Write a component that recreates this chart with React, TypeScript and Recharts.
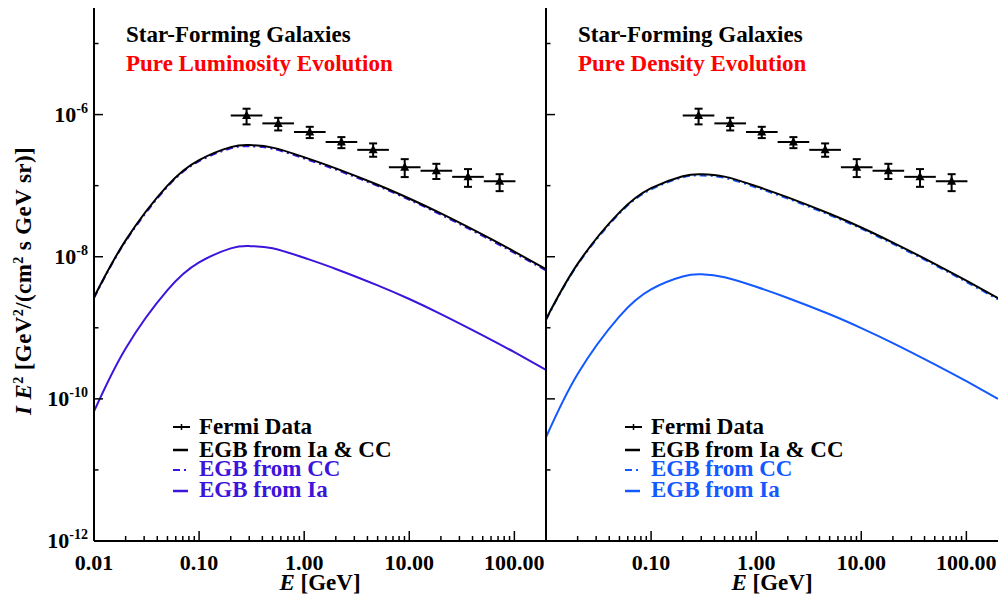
import React from 'react';
import { ComposedChart, Line, Scatter, ErrorBar, XAxis, YAxis } from 'recharts';

const FONT = '"Liberation Serif", "Times New Roman", serif';
const PURPLE = '#3c14dc';
const BLUE = '#1458ff';

// model energies (GeV)
const energies = [0.01, 0.02, 0.05, 0.1, 0.2, 0.3, 0.5, 1, 2, 5, 10, 20, 50, 100, 200];

// pure luminosity evolution
const pleTotal = [2.69e-9, 1.7e-8, 1.0e-7, 2.29e-7, 3.48e-7, 3.72e-7, 3.43e-7, 2.51e-7, 1.75e-7, 1.03e-7, 6.59e-8, 4.06e-8, 2.04e-8, 1.18e-8, 6.67e-9];
const pleCC = [2.62e-9, 1.65e-8, 9.66e-8, 2.21e-7, 3.35e-7, 3.58e-7, 3.3e-7, 2.41e-7, 1.68e-7, 9.91e-8, 6.34e-8, 3.9e-8, 1.96e-8, 1.13e-8, 6.41e-9];
const pleIa = [6.67e-11, 5.13e-10, 3.39e-9, 8.32e-9, 1.31e-8, 1.41e-8, 1.32e-8, 9.66e-9, 6.73e-9, 3.95e-9, 2.54e-9, 1.56e-9, 7.83e-10, 4.53e-10, 2.56e-10];

// pure density evolution
const pdeTotal = [1.32e-9, 7.94e-9, 4.21e-8, 9.2e-8, 1.36e-7, 1.45e-7, 1.34e-7, 9.82e-8, 6.84e-8, 4.02e-8, 2.58e-8, 1.58e-8, 7.96e-9, 4.6e-9, 2.61e-9];
const pdeCC = [1.29e-9, 7.72e-9, 4.07e-8, 8.85e-8, 1.31e-7, 1.39e-7, 1.29e-7, 9.44e-8, 6.58e-8, 3.87e-8, 2.48e-8, 1.52e-8, 7.65e-9, 4.42e-9, 2.51e-9];
const pdeIa = [2.88e-11, 2.24e-10, 1.45e-9, 3.48e-9, 5.27e-9, 5.65e-9, 5.15e-9, 3.78e-9, 2.63e-9, 1.55e-9, 9.91e-10, 6.1e-10, 3.06e-10, 1.77e-10, 1.0e-10];

// Fermi EGB data
const fermiE = [0.283, 0.566, 1.13, 2.26, 4.53, 9.05, 18.1, 36.2, 72.4];
const fermiEmin = [0.2, 0.4, 0.8, 1.6, 3.2, 6.4, 12.8, 25.6, 51.2];
const fermiEmax = [0.4, 0.8, 1.6, 3.2, 6.4, 12.8, 25.6, 51.2, 102.4];
const fermiFlux = [9.74e-7, 7.52e-7, 5.67e-7, 4.1e-7, 3.19e-7, 1.82e-7, 1.62e-7, 1.33e-7, 1.15e-7];
const fermiHi = [1.21e-6, 9.01e-7, 6.73e-7, 4.82e-7, 3.93e-7, 2.36e-7, 2.03e-7, 1.71e-7, 1.45e-7];
const fermiLo = [7.28e-7, 5.98e-7, 4.67e-7, 3.37e-7, 2.55e-7, 1.32e-7, 1.24e-7, 9.62e-8, 8.37e-8];

// axes
const xTicks = [
  0.01, 0.02, 0.03, 0.04, 0.05, 0.06, 0.07, 0.08, 0.09,
  0.1, 0.2, 0.3, 0.4, 0.5, 0.6, 0.7, 0.8, 0.9,
  1, 2, 3, 4, 5, 6, 7, 8, 9,
  10, 20, 30, 40, 50, 60, 70, 80, 90, 100,
];
const xMajor = [0.01, 0.1, 1, 10, 100];
const xLabels = ['0.01', '0.10', '1.00', '10.00', '100.00'];
const yTicks = [1e-12, 1e-11, 1e-10, 1e-9, 1e-8, 1e-7, 1e-6, 1e-5];
const yLabelExp = [-12, -10, -8, -6];
const xDomain = [0.01, 200];
const yDomain = [1e-12, 3.16e-5];

const series = (ys: number[]) => energies.map((e, i) => ({ e, v: ys[i] }));
const fermiRows = fermiE.map((e, i) => ({
  e,
  flux: fermiFlux[i],
  xErr: [e - fermiEmin[i], fermiEmax[i] - e],
  yErr: [fermiFlux[i] - fermiLo[i], fermiHi[i] - fermiFlux[i]],
}));

const majorIdx = (v: number) => xMajor.findIndex((m) => Math.abs(m - v) / m < 1e-6);
const yExp = (v: number) => Math.round(Math.log10(v));

const BottomTick = (props: any) => {
  const { x, y, payload, hideFirst } = props;
  const idx = majorIdx(payload.value);
  const len = idx >= 0 ? 10 : 5;
  return (
    <g>
      <line x1={x} y1={y} x2={x} y2={y - len} stroke="#000" strokeWidth={1.5} />
      {idx >= 0 && !(hideFirst && idx === 0) && (
        <text x={x} y={y + 29} textAnchor="middle" fontFamily={FONT} fontWeight="bold" fontSize={22} fill="#000">
          {xLabels[idx]}
        </text>
      )}
    </g>
  );
};

const TopTick = (props: any) => {
  const { x, y, payload } = props;
  const len = majorIdx(payload.value) >= 0 ? 10 : 5;
  return <line x1={x} y1={y} x2={x} y2={y + len} stroke="#000" strokeWidth={1.5} />;
};

const LeftTick = (props: any) => {
  const { x, y, payload, showLabel } = props;
  const exp = yExp(payload.value);
  const major = exp % 2 === 0;
  return (
    <g>
      <line x1={x} y1={y} x2={x + (major ? 9 : 4.5)} y2={y} stroke="#000" strokeWidth={1.5} />
      {showLabel && yLabelExp.includes(exp) && (
        <text x={x - 6} y={y + 7} textAnchor="end" fontFamily={FONT} fontWeight="bold" fontSize={22} fill="#000">
          10<tspan dy={-9} fontSize={14}>{String(exp)}</tspan>
        </text>
      )}
    </g>
  );
};

const RightTick = (props: any) => {
  const { x, y, payload } = props;
  const major = yExp(payload.value) % 2 === 0;
  return <line x1={x} y1={y} x2={x - (major ? 9 : 4.5)} y2={y} stroke="#000" strokeWidth={1.5} />;
};

const Triangle = (props: any) => {
  const { cx, cy } = props;
  return <polygon points={`${cx},${cy - 5} ${cx - 4.5},${cy + 3.5} ${cx + 4.5},${cy + 3.5}`} fill="#000" />;
};

const axisLine = { stroke: '#000', strokeWidth: 2 };

interface PanelProps {
  left: number;
  total: number[];
  cc: number[];
  ia: number[];
  color: string;
  first: boolean;
}

const Panel: React.FC<PanelProps> = ({ left, total, cc, ia, color, first }) => (
  <div style={{ position: 'absolute', left, top: 0 }}>
    <ComposedChart width={548} height={599} margin={{ top: 8, right: 2, bottom: 0, left: 0 }}>
      <XAxis
        dataKey="e" type="number" scale="log" domain={xDomain} allowDataOverflow
        ticks={xTicks} interval={0} height={58} tickSize={0} tickMargin={0} tickLine={false}
        axisLine={axisLine} tick={<BottomTick hideFirst={!first} />}
      />
      <XAxis
        xAxisId="top" orientation="top" dataKey="e" type="number" scale="log" domain={xDomain}
        allowDataOverflow ticks={xTicks} interval={0} height={0} tickSize={0} tickMargin={0}
        tickLine={false} axisLine={axisLine} tick={<TopTick />}
      />
      <YAxis
        type="number" scale="log" domain={yDomain} allowDataOverflow ticks={yTicks} interval={0}
        width={94} tickSize={0} tickMargin={0} tickLine={false} axisLine={axisLine}
        tick={<LeftTick showLabel={first} />}
      />
      <YAxis
        yAxisId="right" orientation="right" type="number" scale="log" domain={yDomain} allowDataOverflow
        ticks={yTicks} interval={0} width={0} tickSize={0} tickMargin={0} tickLine={false}
        axisLine={axisLine} tick={<RightTick />}
      />
      <Line data={series(cc)} dataKey="v" type="natural" stroke={color} strokeWidth={2}
        strokeDasharray="7 4 2 4" dot={false} isAnimationActive={false} />
      <Line data={series(total)} dataKey="v" type="natural" stroke="#000" strokeWidth={2}
        dot={false} isAnimationActive={false} />
      <Line data={series(ia)} dataKey="v" type="natural" stroke={color} strokeWidth={2}
        dot={false} isAnimationActive={false} />
      <Scatter data={fermiRows} dataKey="flux" shape={<Triangle />} isAnimationActive={false}>
        <ErrorBar dataKey="yErr" direction="y" width={4} stroke="#000" strokeWidth={2} />
        <ErrorBar dataKey="xErr" direction="x" width={0} stroke="#000" strokeWidth={2} />
      </Scatter>
    </ComposedChart>
  </div>
);

const Annotations: React.FC<{ ox: number; subtitle: string; color: string }> = ({ ox, subtitle, color }) => {
  const sx = 173 + ox;
  const tx = 199 + ox;
  return (
    <g fontFamily={FONT} fontWeight="bold" fontSize={23}>
      <text x={126 + ox} y={42} fill="#000">Star-Forming Galaxies</text>
      <text x={126 + ox} y={71} fill="#ff0000">{subtitle}</text>

      <line x1={sx} y1={427} x2={sx + 17} y2={427} stroke="#000" strokeWidth={2} />
      <line x1={sx + 8.5} y1={424} x2={sx + 8.5} y2={430} stroke="#000" strokeWidth={1.5} />
      <text x={tx} y={434} fill="#000">Fermi Data</text>

      <line x1={sx} y1={450} x2={sx + 15} y2={450} stroke="#000" strokeWidth={2.5} />
      <text x={tx} y={457} fill="#000">EGB from Ia &amp; CC</text>

      <line x1={sx} y1={470} x2={sx + 15} y2={470} stroke={color} strokeWidth={2} strokeDasharray="7 4 2 4" />
      <text x={tx} y={476} fill={color}>EGB from CC</text>

      <line x1={sx} y1={491} x2={sx + 15} y2={491} stroke={color} strokeWidth={2.5} />
      <text x={tx} y={497} fill={color}>EGB from Ia</text>

      <text x={320 + ox} y={590} textAnchor="middle" fill="#000">
        <tspan fontStyle="italic">E</tspan> [GeV]
      </text>
    </g>
  );
};

export default function App() {
  return (
    <div style={{ position: 'absolute', left: 0, top: 0, width: 1000, height: 599, background: '#fff' }}>
      <Panel left={0} total={pleTotal} cc={pleCC} ia={pleIa} color={PURPLE} first />
      <Panel left={452} total={pdeTotal} cc={pdeCC} ia={pdeIa} color={BLUE} first={false} />
      <svg width={1000} height={599} style={{ position: 'absolute', left: 0, top: 0, pointerEvents: 'none' }}>
        <Annotations ox={0} subtitle="Pure Luminosity Evolution" color={PURPLE} />
        <Annotations ox={452} subtitle="Pure Density Evolution" color={BLUE} />
        <text
          x={31} y={281} transform="rotate(-90 31 281)" textAnchor="middle"
          fontFamily={FONT} fontWeight="bold" fontSize={23} letterSpacing={0.4} fill="#000"
        >
          <tspan fontStyle="italic">I E</tspan>
          <tspan dy={-8} fontSize={14}>2</tspan>
          <tspan dy={8}>{' [GeV'}</tspan>
          <tspan dy={-8} fontSize={14}>2</tspan>
          <tspan dy={8}>{'/(cm'}</tspan>
          <tspan dy={-8} fontSize={14}>2</tspan>
          <tspan dy={8}>{' s GeV sr)]'}</tspan>
        </text>
      </svg>
    </div>
  );
}
